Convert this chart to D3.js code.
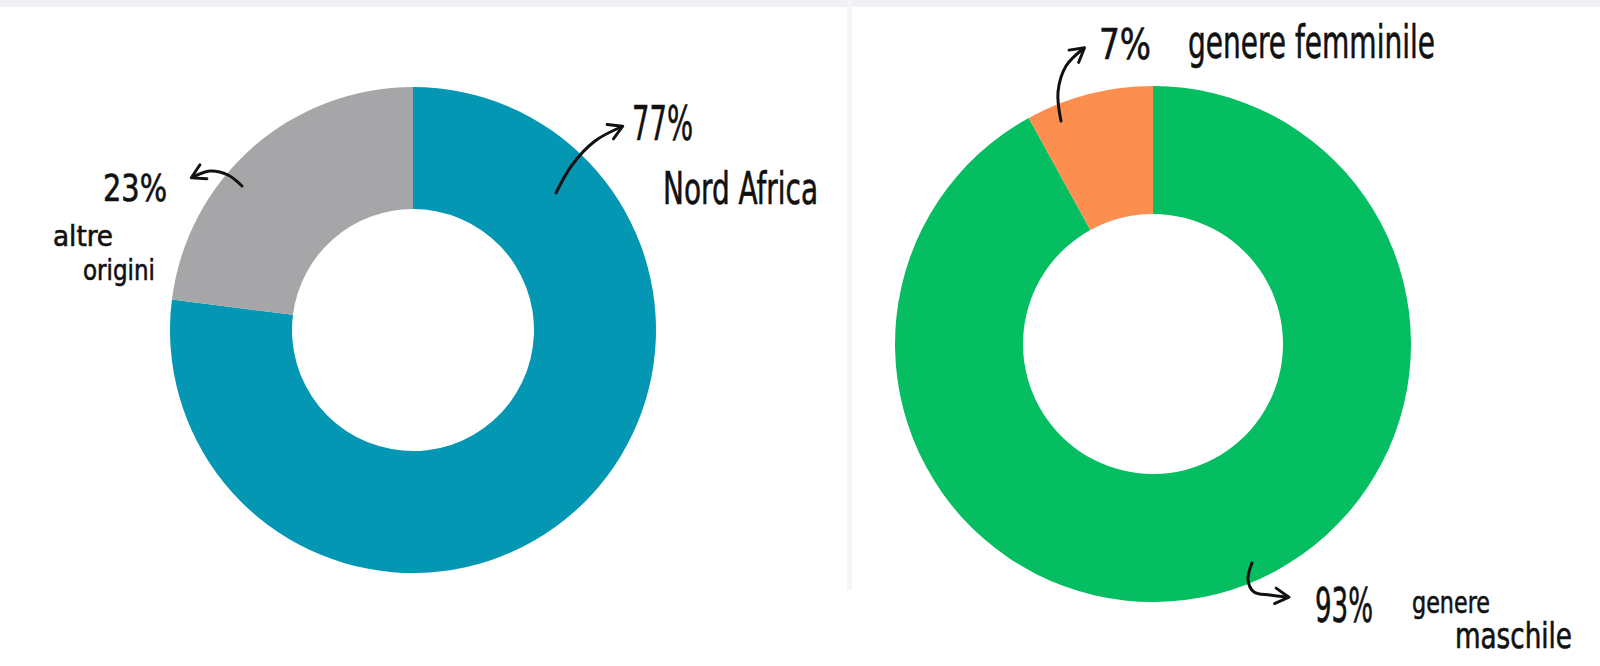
<!DOCTYPE html>
<html>
<head>
<meta charset="utf-8">
<script src="https://cdn.jsdelivr.net/npm/d3@7/dist/d3.min.js"></script>
<style>
  html, body { margin: 0; padding: 0; background: #ffffff; }
  svg { display: block; }
  text { font-family: "Liberation Sans Narrow", "DejaVu Sans Condensed", "Roboto", sans-serif; fill: #111; stroke: #111; stroke-width: 0.6; }
</style>
</head>
<body>
<svg id="chart" width="1600" height="666"></svg>
<script>
// ---- data ----
const originCategories = ["Nord Africa", "altre origini"];
const originValues = [77, 23];
const originColors = ["#0497b4", "#a6a5a8"];

const genderCategories = ["genere maschile", "genere femminile"];
const genderValues = [92, 8];           // slice shares as drawn
const genderColors = ["#04be61", "#fc8f4f"];

const originLabels = ["77%", "23%"];
const genderLabels = ["93%", "7%"];

// ---- setup ----
const svg = d3.select("#chart");
svg.append("rect").attr("x", 0).attr("y", 0).attr("width", 1600).attr("height", 7).attr("fill", "#f0f1f7");
svg.append("rect").attr("x", 847).attr("y", 0).attr("width", 5).attr("height", 590).attr("fill", "#f5f5fb");

const defs = svg.append("defs");
defs.append("marker")
  .attr("id", "ah").attr("viewBox", "0 0 10 10").attr("refX", 7).attr("refY", 5)
  .attr("markerWidth", 6.5).attr("markerHeight", 6.5).attr("orient", "auto")
  .attr("markerUnits", "strokeWidth")
  .append("path").attr("d", "M1,1 L8,5 L1,9").attr("fill", "none")
  .attr("stroke", "#111").attr("stroke-width", 1.5).attr("stroke-linecap", "round").attr("stroke-linejoin", "round");

const pie = d3.pie().sort(null).value(d => d);

function donut(cx, cy, rOuter, rInner, values, colors) {
  const g = svg.append("g").attr("transform", `translate(${cx},${cy})`);
  const arc = d3.arc().innerRadius(rInner).outerRadius(rOuter);
  g.selectAll("path").data(pie(values)).join("path")
    .attr("d", arc).attr("fill", (d, i) => colors[i]);
  return g;
}

const L = { cx: 413, cy: 330, ro: 243, ri: 121 };
const R = { cx: 1153, cy: 344, ro: 258, ri: 130 };
donut(L.cx, L.cy, L.ro, L.ri, originValues, originColors);
donut(R.cx, R.cy, R.ro, R.ri, genderValues, genderColors);

// ---- annotations ----
function label(txt, x, y, size, len, anchor) {
  svg.append("text").attr("x", x).attr("y", y).attr("font-size", size)
    .attr("text-anchor", anchor || "start")
    .attr("textLength", len).attr("lengthAdjust", "spacingAndGlyphs").text(txt);
}
const curve = d3.line().curve(d3.curveCatmullRom.alpha(0.5));
function arrow(pts) {
  svg.append("path").attr("d", curve(pts)).attr("fill", "none")
    .attr("stroke", "#111").attr("stroke-width", 3).attr("stroke-linecap", "round")
    .attr("marker-end", "url(#ah)");
}

// left chart
label(originLabels[0], 632, 140, 48, 61);
label("Nord Africa", 663, 204, 44, 155);
arrow([[556, 193], [572, 165], [595, 141], [621, 127]]);

label(originLabels[1], 103, 201, 37, 64);
label("altre", 53, 246, 29, 60);
label("origini", 83, 280, 29, 72);
arrow([[242, 186], [228, 175], [210, 171], [193, 177]]);

// right chart
label(genderLabels[1], 1099, 59, 43, 52);
label("genere femminile", 1188, 58, 46, 247);
arrow([[1061, 121], [1058, 92], [1066, 66], [1083, 49]]);

label(genderLabels[0], 1315, 622, 48, 58);
label("genere", 1412, 613, 30, 78);
label("maschile", 1572, 648, 35, 117, "end");
arrow([[1252, 563], [1248, 580], [1254, 592], [1270, 595], [1287, 597]]);
</script>
</body>
</html>
